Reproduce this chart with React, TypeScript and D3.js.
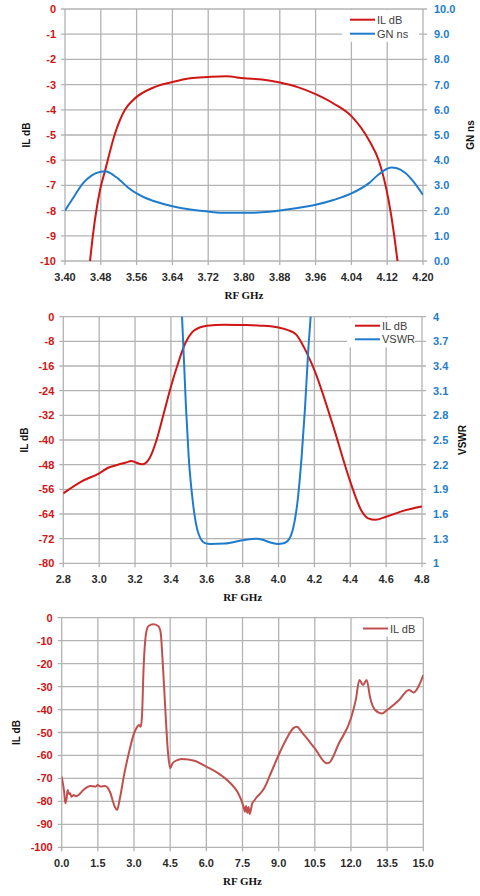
import React from 'react';
import * as d3 from 'd3';

// ---- data ----
// panel 1: IL dB and group delay, 3.40..4.20 GHz
const p1Freq = [3.44, 3.456, 3.478, 3.489, 3.512, 3.534, 3.553, 3.6, 3.64, 3.68, 3.72, 3.76, 3.8, 3.84, 3.88, 3.92, 3.96, 4.0, 4.041, 4.081, 4.101, 4.123, 4.135, 4.143, 4.16];
const p1IL = [-13.5, -10, -7.2, -6.45, -4.93, -4.0, -3.6, -3.1, -2.9, -2.75, -2.7, -2.67, -2.75, -2.8, -2.92, -3.1, -3.38, -3.75, -4.27, -5.26, -6.0, -7.58, -8.9, -10, -12.5];
const p1GdFreq = [3.4, 3.42, 3.44, 3.46, 3.48, 3.49, 3.5, 3.52, 3.54, 3.56, 3.58, 3.6, 3.64, 3.68, 3.72, 3.76, 3.8, 3.84, 3.88, 3.92, 3.96, 4.0, 4.04, 4.08, 4.1, 4.12, 4.13, 4.14, 4.16, 4.18, 4.2];
const p1GN = [2.0, 2.55, 3.08, 3.4, 3.54, 3.56, 3.5, 3.25, 2.93, 2.68, 2.5, 2.37, 2.17, 2.04, 1.96, 1.91, 1.91, 1.93, 2.0, 2.1, 2.23, 2.42, 2.68, 3.1, 3.42, 3.66, 3.71, 3.69, 3.5, 3.12, 2.62];
const p1XTicks = [3.4, 3.48, 3.56, 3.64, 3.72, 3.8, 3.88, 3.96, 4.04, 4.12, 4.2];
const p1YTicks = [0, -1, -2, -3, -4, -5, -6, -7, -8, -9, -10];
const p1RTicks = [10, 9, 8, 7, 6, 5, 4, 3, 2, 1, 0];

// panel 2: IL dB and VSWR, 2.8..4.8 GHz
const p2Freq = [2.8, 2.9, 3.0, 3.05, 3.1, 3.15, 3.18, 3.2, 3.24, 3.28, 3.32, 3.36, 3.4, 3.44, 3.48, 3.52, 3.56, 3.6, 3.7, 3.8, 3.9, 4.0, 4.06, 4.1, 4.14, 4.18, 4.2, 4.3, 4.4, 4.46, 4.5, 4.54, 4.6, 4.7, 4.8];
const p2IL = [-57.3, -53.5, -50.8, -49.0, -48.1, -47.3, -46.8, -47.2, -47.9, -46, -40, -31.4, -22.7, -15.1, -8.6, -4.9, -3.5, -2.9, -2.6, -2.7, -2.9, -3.5, -4.5, -5.9, -9.7, -14.6, -17.3, -34.6, -53.5, -62.7, -65.4, -65.9, -64.9, -62.9, -61.6];
const p2VFreq = [3.44, 3.462, 3.484, 3.499, 3.521, 3.553, 3.59, 3.62, 3.7, 3.8, 3.88, 3.92, 3.96, 4.0, 4.02, 4.045, 4.079, 4.107, 4.129, 4.148, 4.166, 4.179, 4.2];
const p2VSWR = [4.8, 4.0, 2.9, 2.3, 1.77, 1.365, 1.245, 1.235, 1.24, 1.28, 1.3, 1.28, 1.25, 1.235, 1.24, 1.26, 1.405, 1.77, 2.3, 2.9, 3.6, 4.0, 4.9];
const p2XTicks = [2.8, 3.0, 3.2, 3.4, 3.6, 3.8, 4.0, 4.2, 4.4, 4.6, 4.8];
const p2YTicks = [0, -8, -16, -24, -32, -40, -48, -56, -64, -72, -80];
const p2RTicks = [4, 3.7, 3.4, 3.1, 2.8, 2.5, 2.2, 1.9, 1.6, 1.3, 1];

// panel 3: wideband IL dB, 0..15 GHz
const p3Freq = [0.0, 0.1, 0.15, 0.2, 0.25, 0.3, 0.35, 0.4, 0.5, 0.6, 0.7, 0.9, 1.2, 1.4, 1.5, 1.6, 1.8, 2.0, 2.2, 2.3, 2.4, 2.6, 2.8, 3.0, 3.1, 3.2, 3.28, 3.33, 3.4, 3.5, 3.6, 3.8, 4.0, 4.1, 4.2, 4.3, 4.4, 4.5, 4.6, 4.8, 5.0, 5.5, 6.0, 6.5, 7.0, 7.3, 7.45, 7.55, 7.6, 7.65, 7.7, 7.75, 7.8, 7.85, 7.9, 8.0, 8.1, 8.2, 8.4, 8.7, 9.0, 9.3, 9.6, 9.75, 10.0, 10.5, 11.0, 11.1, 11.5, 12.0, 12.2, 12.35, 12.5, 12.65, 12.8, 13.0, 13.3, 13.5, 14.0, 14.4, 14.6, 14.8, 15.0];
const p3IL = [-69.2, -75.8, -80.8, -79, -75, -76.8, -76.5, -78, -77.2, -77.8, -77.2, -75, -73.3, -73.6, -72.9, -73.5, -73.3, -75.8, -82.3, -83.7, -79.4, -67.8, -58.3, -50.4, -48.2, -46.7, -47.5, -43, -21.3, -6.8, -3.6, -2.9, -3.6, -6.1, -21.3, -40.2, -57.6, -65.6, -63.4, -62, -61.5, -62.3, -64.9, -67.8, -72.1, -76, -79.5, -82.5, -84.5, -82, -85, -82.5, -85.5, -83.5, -81, -79.5, -78, -77, -74.3, -67.1, -59.8, -53.3, -48.2, -47.5, -50.4, -56.9, -63.4, -63.1, -54.7, -43.8, -35.8, -27.1, -29.3, -27.1, -35.1, -40.2, -41.7, -40.2, -35.8, -31.5, -32.6, -30, -25];
const p3XTicks = [0, 1.5, 3, 4.5, 6, 7.5, 9, 10.5, 12, 13.5, 15];
const p3YTicks = [0, -10, -20, -30, -40, -50, -60, -70, -80, -90, -100];

const RED = '#d01515';
const BLUE = '#1f7ccc';
const SOFT_RED = '#c0504d';
const GRID = '#b3b3b3';
const TICK_FONT = '"Liberation Sans", Arial, sans-serif';

interface Series {
  x: number[];
  y: number[];
  color: string;
  right?: boolean;
  label: string;
}

interface PanelProps {
  id: string;
  left: number;
  right: number;
  top: number;
  bottom: number;
  xTicks: number[];
  xFmt: (v: number) => string;
  yTicks: number[];
  yFmt: (v: number) => string;
  yColor: string;
  rTicks?: number[];
  rFmt?: (v: number) => string;
  series: Series[];
  yTitle: string;
  yTitleX: number;
  rTitle?: string;
  rTitleX?: number;
  legend: { x0: number; x1: number; y0: number; rows: number[] };
}

const Panel = (p: PanelProps) => {
  const x = d3.scaleLinear().domain(d3.extent(p.xTicks) as [number, number]).range([p.left, p.right]);
  const y = d3.scaleLinear().domain(d3.extent(p.yTicks) as [number, number]).range([p.bottom, p.top]);
  const r = p.rTicks
    ? d3.scaleLinear().domain(d3.extent(p.rTicks) as [number, number]).range([p.bottom, p.top])
    : null;

  const path = (s: Series) => {
    const ys = s.right && r ? r : y;
    const line = d3
      .line<number>()
      .x((_, i) => x(s.x[i]))
      .y((v) => ys(v))
      .curve(d3.curveMonotoneX);
    return line(s.y) || '';
  };

  const cx = (p.left + p.right) / 2;
  const cy = (p.top + p.bottom) / 2;
  const lg = p.legend;

  return (
    <g>
      <defs>
        <clipPath id={p.id}>
          <rect x={p.left} y={p.top} width={p.right - p.left} height={p.bottom - p.top} />
        </clipPath>
      </defs>
      {/* grid */}
      {p.xTicks.map((t) => (
        <line key={'gx' + t} x1={x(t)} x2={x(t)} y1={p.top} y2={p.bottom + 4} stroke={GRID} strokeWidth={1.3} />
      ))}
      {p.yTicks.map((t) => (
        <line key={'gy' + t} x1={p.left - 4} x2={p.right + (r ? 4 : 0)} y1={y(t)} y2={y(t)} stroke={GRID} strokeWidth={1.3} />
      ))}
      {/* legend background */}
      <rect x={lg.x0} y={p.top + 1} width={lg.x1 - lg.x0} height={lg.rows[lg.rows.length - 1] - p.top + 7} fill="#fff" />
      {/* series */}
      <g clipPath={`url(#${p.id})`}>
        {p.series.map((s) => (
          <path key={s.label} d={path(s)} fill="none" stroke={s.color} strokeWidth={2} strokeLinejoin="round" />
        ))}
      </g>
      {/* legend entries */}
      {p.series.map((s, i) => (
        <g key={'lg' + s.label}>
          <line x1={lg.x0 + 8} x2={lg.x0 + 33} y1={lg.rows[i]} y2={lg.rows[i]} stroke={s.color} strokeWidth={2} />
          <text x={lg.x0 + 35} y={lg.rows[i] + 4} fontSize={11} fontFamily={TICK_FONT} fill="#404040">
            {s.label}
          </text>
        </g>
      ))}
      {/* tick labels */}
      {p.xTicks.map((t) => (
        <text key={'tx' + t} x={x(t)} y={p.bottom + 20} textAnchor="middle" fontSize={11} fontWeight="bold" fontFamily={TICK_FONT} fill="#2b2b2b">
          {p.xFmt(t)}
        </text>
      ))}
      {p.yTicks.map((t) => (
        <text key={'ty' + t} x={p.left - 9} y={y(t) + 4} textAnchor="end" fontSize={11} fontWeight="bold" fontFamily={TICK_FONT} fill={p.yColor}>
          {p.yFmt(t)}
        </text>
      ))}
      {r &&
        p.rTicks!.map((t) => (
          <text key={'tr' + t} x={p.right + 11} y={r(t) + 4} textAnchor="start" fontSize={11} fontWeight="bold" fontFamily={TICK_FONT} fill={BLUE}>
            {p.rFmt!(t)}
          </text>
        ))}
      {/* titles */}
      <text x={cx} y={p.bottom + 38} textAnchor="middle" fontSize={11} fontWeight="bold" fontFamily='"Liberation Serif", "Times New Roman", serif' fill="#111">
        RF GHz
      </text>
      <text transform={`translate(${p.yTitleX},${cy}) rotate(-90)`} textAnchor="middle" dy={4} fontSize={10} fontWeight="bold" fontFamily={TICK_FONT} fill="#111">
        {p.yTitle}
      </text>
      {p.rTitle && (
        <text transform={`translate(${p.rTitleX},${cy}) rotate(-90)`} textAnchor="middle" dy={4} fontSize={10} fontWeight="bold" fontFamily={TICK_FONT} fill="#111">
          {p.rTitle}
        </text>
      )}
    </g>
  );
};

const f2 = d3.format('.2f');
const f1 = d3.format('.1f');
const f0 = (v: number) => String(v);

export default function App() {
  return (
    <svg width={480} height={896} style={{ position: 'absolute', left: 0, top: 0, background: '#fff' }}>
      <Panel
        id="c1"
        left={65}
        right={423}
        top={9}
        bottom={261}
        xTicks={p1XTicks}
        xFmt={f2}
        yTicks={p1YTicks}
        yFmt={f0}
        yColor={RED}
        rTicks={p1RTicks}
        rFmt={f1}
        series={[
          { x: p1Freq, y: p1IL, color: RED, label: 'IL dB' },
          { x: p1GdFreq, y: p1GN, color: BLUE, right: true, label: 'GN ns' },
        ]}
        yTitle="IL dB"
        yTitleX={26}
        rTitle="GN ns"
        rTitleX={470}
        legend={{ x0: 342, x1: 419, y0: 9, rows: [19.7, 33.7] }}
      />
      <Panel
        id="c2"
        left={63.3}
        right={422}
        top={316.7}
        bottom={563.3}
        xTicks={p2XTicks}
        xFmt={f1}
        yTicks={p2YTicks}
        yFmt={f0}
        yColor={RED}
        rTicks={p2RTicks}
        rFmt={f0}
        series={[
          { x: p2Freq, y: p2IL, color: RED, label: 'IL dB' },
          { x: p2VFreq, y: p2VSWR, color: BLUE, right: true, label: 'VSWR' },
        ]}
        yTitle="IL dB"
        yTitleX={24}
        rTitle="VSWR"
        rTitleX={462}
        legend={{ x0: 347, x1: 415, y0: 316.7, rows: [325.7, 339.3] }}
      />
      <Panel
        id="c3"
        left={61.7}
        right={423.3}
        top={617.7}
        bottom={847.3}
        xTicks={p3XTicks}
        xFmt={f1}
        yTicks={p3YTicks}
        yFmt={f0}
        yColor={RED}
        series={[{ x: p3Freq, y: p3IL, color: SOFT_RED, label: 'IL dB' }]}
        yTitle="IL dB"
        yTitleX={16}
        legend={{ x0: 355, x1: 416, y0: 617.7, rows: [628.5] }}
      />
    </svg>
  );
}
